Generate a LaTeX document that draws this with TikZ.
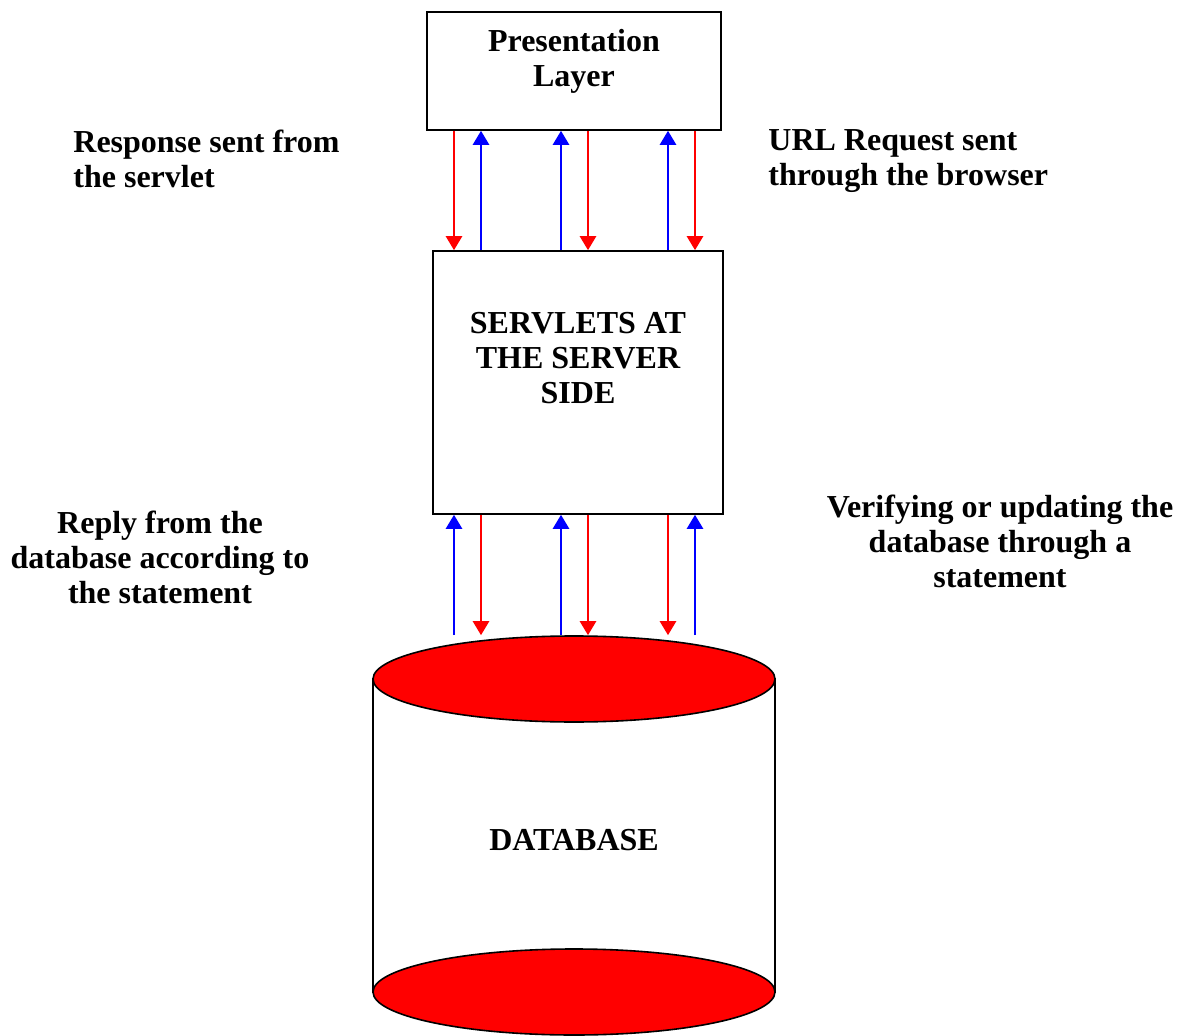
\documentclass[tikz,border=0pt]{standalone}
\usepackage{fontspec}
\setmainfont{Liberation Serif}
\usetikzlibrary{arrows.meta,shapes.geometric}

\tikzset{
  box/.style={draw, thick, fill=white, inner sep=0pt},
  lbl/.style={font=\fontsize{16}{17.5}\selectfont\bfseries, align=left, inner sep=0pt},
  down/.style={red, line width=1.3pt, -{Triangle[width=8pt,length=7pt]}},
  up/.style={blue, line width=1.3pt, -{Triangle[width=8pt,length=7pt]}},
  dbcap/.style={ellipse, draw, thick, fill=red, inner sep=0pt, minimum width=201pt, minimum height=43pt}
}

\begin{document}
\begin{tikzpicture}[x=0.5pt, y=-0.5pt]
    \useasboundingbox (0,0) rectangle (1187,1036);
    % Caixes
    \node[box, minimum width=147pt, minimum height=59pt] (pres) at (574,71) {};
    \node[lbl, align=center] (prest) at (574,61) {Presentation\\Layer};
    \node[box, minimum width=145pt, minimum height=131.5pt] (serv) at (578,382.5) {};
    \node[lbl, align=center] (servt) at (578,358) {SERVLETS AT\\THE SERVER\\SIDE};

    % Cilindre de la base de dades
    \coordinate (dbl) at (373,679);
    \coordinate (dbr) at (775,992);
    \draw[thick, fill=white] (dbl) rectangle (dbr);
    \node[dbcap] (dbbot) at (574,992) {};
    \node[dbcap] (dbtop) at (574,679) {};
    \node[lbl] (dbt) at (574,840) {DATABASE};

    % Fletxes de dalt
    \draw[down] (pres.south -| 454,0) -- (serv.north -| 454,0);
    \draw[up]   (serv.north -| 481,0) -- (pres.south -| 481,0);
    \draw[up]   (serv.north -| 561,0) -- (pres.south -| 561,0);
    \draw[down] (pres.south -| 588,0) -- (serv.north -| 588,0);
    \draw[up]   (serv.north -| 668,0) -- (pres.south -| 668,0);
    \draw[down] (pres.south -| 695,0) -- (serv.north -| 695,0);

    % Fletxes de baix
    \draw[up]   (dbtop.north -| 454,0) -- (serv.south -| 454,0);
    \draw[down] (serv.south -| 481,0) -- (dbtop.north -| 481,0);
    \draw[up]   (dbtop.north -| 561,0) -- (serv.south -| 561,0);
    \draw[down] (serv.south -| 588,0) -- (dbtop.north -| 588,0);
    \draw[down] (serv.south -| 668,0) -- (dbtop.north -| 668,0);
    \draw[up]   (dbtop.north -| 695,0) -- (serv.south -| 695,0);

    % Etiquetes
    \node[lbl, anchor=west] (resp) at (73,159) {Response sent from\\the servlet};
    \node[lbl, anchor=west] (url) at (768,161) {URL Request sent\\through the browser};
    \node[lbl, align=center] (reply) at (160,557) {Reply from the\\database according to\\the statement};
    \node[lbl, align=center] (verif) at (1000,541) {Verifying or updating the\\database through a\\statement};
\end{tikzpicture}
\end{document}
